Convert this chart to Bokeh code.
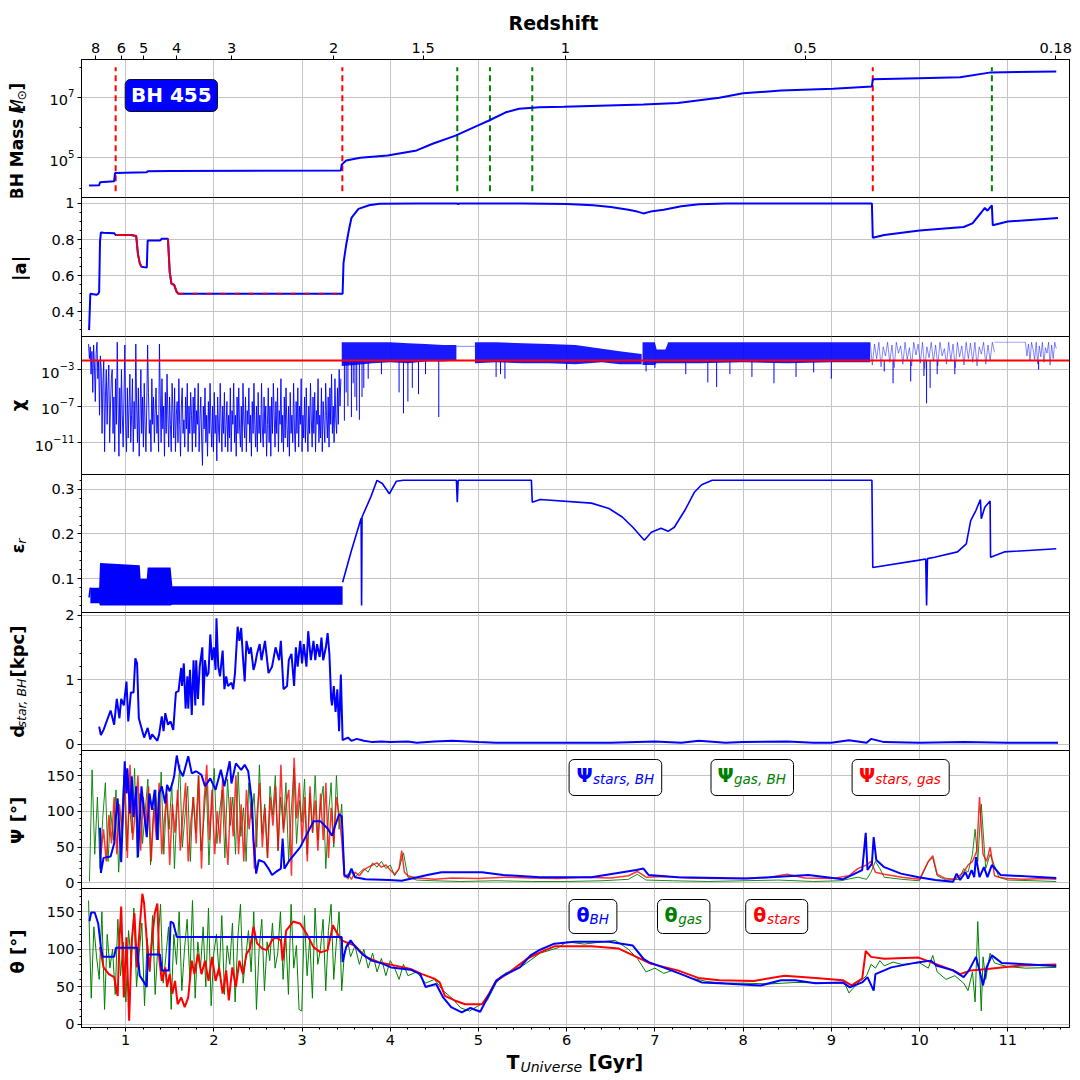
import numpy as np
from bokeh.plotting import figure
from bokeh.layouts import column, row
from bokeh.models import (Range1d, FixedTicker, SingleIntervalTicker, Label,
                          BoxAnnotation, CustomJSTickFormatter, Span)
from bokeh.embed import file_html
from bokeh.resources import INLINE

nan = float("nan")

# ---------------- data ----------------
redshift_labels = ["8", "6", "5", "4", "3", "2", "1.5", "1", "0.5", "0.18"]
redshift_T = [0.661, 0.951, 1.204, 1.578, 2.203, 3.358, 4.373, 5.984, 8.705, 11.544]
T_major = [1, 2, 3, 4, 5, 6, 7, 8, 9, 10, 11]

# BH mass (log10 Msun)
mass_T = [0.586, 0.70, 0.71, 0.87, 0.88, 1.24, 1.25, 1.51, 3.44, 3.45, 3.50, 3.66, 3.97,
          4.30, 4.48, 4.74, 4.99, 5.12, 5.31, 5.46, 5.69, 5.97, 6.87, 7.26, 7.73, 8.00,
          8.43, 9.02, 9.46, 9.47, 9.99, 10.46, 10.81, 11.55]
mass_log10 = [4.09, 4.10, 4.20, 4.23, 4.50, 4.53, 4.56, 4.57, 4.59, 4.78, 4.92, 5.01, 5.08,
              5.25, 5.47, 5.74, 6.07, 6.24, 6.51, 6.63, 6.68, 6.69, 6.77, 6.82, 6.99, 7.14,
              7.23, 7.29, 7.36, 7.60, 7.64, 7.67, 7.83, 7.86]
merger_T_red = [0.887, 3.457, 9.47]
merger_T_green = [4.76, 5.13, 5.61, 10.82]
merger_line_log10 = (3.90, 8.00)

# spin |a|
spin_T = [0.586, 0.60, 0.67, 0.69, 0.70, 0.71, 0.72, 0.75, 0.87, 0.89,
          1.06, 1.12, 1.14, 1.16, 1.18, 1.24, 1.25, 1.39, 1.41, 1.48,
          1.50, 1.52, 1.55, 1.58, 1.60, 3.46, 3.47, 3.50, 3.53, 3.56,
          3.64, 3.76, 3.88, 4.3, 4.76, 4.77, 4.78, 5.5, 6.0, 6.3,
          6.5, 6.7, 6.8, 6.87, 6.95, 7.1, 7.3, 7.5, 7.8, 9.46,
          9.47, 9.6, 10.0, 10.5, 10.6, 10.7, 10.74, 10.77, 10.82, 10.83,
          11.0, 11.57]
spin_a = [0.30, 0.50, 0.495, 0.50, 0.51, 0.79, 0.84, 0.838, 0.835, 0.825,
          0.825, 0.82, 0.72, 0.67, 0.65, 0.645, 0.795, 0.795, 0.805, 0.805,
          0.62, 0.555, 0.55, 0.51, 0.50, 0.50, 0.67, 0.77, 0.85, 0.92,
          0.97, 0.99, 0.998, 1.0, 1.0, 0.995, 1.0, 1.0, 0.997, 0.99,
          0.98, 0.965, 0.955, 0.945, 0.955, 0.965, 0.985, 0.995, 1.0, 1.0,
          0.81, 0.825, 0.85, 0.87, 0.89, 0.95, 0.975, 0.96, 0.99, 0.88,
          0.90, 0.92]
spin_red1_T = [0.89, 1.06, 1.12, 1.14, 1.16, 1.18]
spin_red1 = [0.825, 0.825, 0.82, 0.72, 0.67, 0.65]
spin_red2_T = [1.48, 1.50, 1.52, 1.55, 1.58, 1.60]
spin_red2 = [0.805, 0.62, 0.555, 0.55, 0.51, 0.50]
spin_red3_T = [1.60, 3.40]
spin_red3 = [0.50, 0.50]

# chi (log10)
chi_crit = 1e-2
chi_early_range = (0.58, 3.44)
chi_early_log10 = [
    # 0.58 - 0.85
    -0.2, -1.8, -0.5, -3.5, -1.0, -5.5, -0.3, -2.5, -6.5, -1.2, 0, -4, -2, -8,
    -1.5, -3, -10, -4.5, -2, -12, -6, -3, -9, -5, -2.5, -11, -7, -4,
    # 0.85 - 1.35
    -3, -10, -6, -12, -4, -9, 0, -7, -12.5, -5, -10, -3, -8, -11.5, -6, -0.3,
    -9, -12, -5, -10.5, -7, -3.5, -11, -8, -4, -12, -6.5, -9.5, -0.2, -7, -11, -5,
    -12.5, -8, -3, -10, -6, -11.5, -4.5, -9, -12, -7, -0.3, -5.5, -10, -8.5,
    -12, -4, -9, -6, -11, -7.5,
    # 1.35 - 1.75
    -5, -10, -8, -12, -0.2, -6, -11, -4, -9.5, -7, -12.5, -5.5, -10, -3.5,
    -8, -11.5, -6, -9, -12, -4.5, -7.5, -10.5, -5, -12, -8, -6.5, -11, -4,
    -9, -12.5, -7, -5, -10, -8.5, -11.5, -6, -9.5, -4.5, -12, -7, -10, -5.5,
    # 1.75 - 2.6
    -8, -12, -6, -10, -5, -11.5, -7.5, -9, -4.5, -12, -8.5, -6, -10.5, -13.5, -7,
    -9.5, -5, -11, -8, -12.5, -6.5, -10, -4.5, -9, -11.5, -7, -12, -5.5, -10, -8,
    -13, -6, -9.5, -11, -4.5, -8.5, -12, -7, -10, -5.5, -11.5, -9, -6.5, -12, -8,
    -10.5, -5, -12, -7.5, -9, -4.5, -11, -8, -12.5, -6, -10, -5, -9.5, -11.5, -7,
    -12, -4.5, -8.5, -10.5, -6, -12, -7.5, -9, -5, -11, -8, -12.5, -6.5, -10, -4.5,
    -9, -11.5, -7, -12, -5.5, -10, -8, -11, -4.5, -9.5, -11.5, -6, -10, -7, -12.5,
    # 2.6 - 3.44
    -9, -5, -11, -7, -12.5, -6, -10, -4.5, -8, -11.5, -6.5, -10, -5, -12, -7.5,
    -9, -4, -11, -8, -12, -6, -10.5, -5, -9, -11.5, -7, -12.5, -5.5, -10, -8,
    -11, -4.5, -9.5, -12, -6.5, -10, -5, -11.5, -7, -9, -4, -12, -8, -10.5, -6,
    -11, -5, -9.5, -12, -7, -10, -4.5, -8.5, -11.5, -6, -10, -5.5, -12, -7.5, -9,
    -4, -11, -8, -10.5, -5, -12, -6.5, -9, -11, -4.5, -8, -10.5, -6, -11.5, -5,
    -9, -3.5, -10, -7, -11, -4, -8.5, -10, -5, -9, -3, -7, -4]
chi_band1_T = [3.45, 3.6, 3.8, 4.0, 4.2, 4.4, 4.6, 4.75]
chi_band1_hi = [0.0, 0.0, 0.0, 0.0, -0.1, -0.2, -0.3, -0.3]
chi_band1_lo = [-2.6, -2.5, -2.3, -2.2, -2.3, -2.1, -2.1, -2.0]
chi_gap_T = [4.75, 4.96]
chi_gap = [-0.45, -0.45]
chi_band2_T = [4.96, 5.2, 5.5, 5.8, 6.1, 6.4, 6.6, 6.85]
chi_band2_hi = [0.0, 0.0, -0.1, -0.2, -0.3, -0.7, -1.0, -1.3]
chi_band2_lo = [-2.3, -2.2, -2.3, -2.3, -2.4, -2.2, -2.4, -2.4]
chi_band3_T = [6.86, 7.0, 7.02, 7.12, 7.15, 7.5, 8.0, 8.5, 9.0, 9.44]
chi_band3_hi = [0.0, 0.0, -0.8, -0.8, 0.0, 0.0, 0.0, 0.0, 0.0, 0.0]
chi_band3_lo = [-2.5, -2.5, -2.3, -2.3, -2.3, -2.3, -2.2, -2.3, -2.2, -2.2]
chi_sparse1_range = (9.44, 10.85)
chi_sparse1 = [0, -2.5, -0.2, -1.8, 0, -2.7, -0.5, -1.5, 0, -2.2, -0.3, -2.8, 0, -1.2,
               -0.4, -2.4, 0, -1.9, -0.6, -2.6, 0, -1.4, -0.2, -2.3, 0, -2.9, -0.5, -1.7,
               0, -2.1, -0.3, -2.6, 0, -1.5, -0.7, -2.4, 0, -2.0, -0.2, -2.8, 0, -1.6,
               -0.4, -2.5, 0, -1.8, -0.1, -2.2, 0, -2.6, -0.5, -1.3, 0, -2.4, -0.3, -2.0,
               0, -1.1]
chi_flat_T = [10.85, 11.2]
chi_flat = [0.0, 0.0]
chi_sparse2_range = (11.2, 11.55)
chi_sparse2 = [0, -1.5, -0.2, -2.0, 0, -0.8, -1.9, 0, -2.4, -0.4, -1.6, 0, -2.2, -0.6,
               -1.2, 0, -2.5, -0.3, -1.8, 0, -0.7]
chi_spike_T = [3.48, 3.52, 3.56, 3.60, 3.65, 3.70, 3.75, 3.90, 4.10, 4.15,
               4.20, 4.25, 4.40, 4.55, 5.20, 5.25, 5.30, 6.00, 6.90, 7.00,
               7.35, 7.60, 7.70, 7.85, 8.10, 8.35, 8.60, 8.80, 9.00, 9.60,
               9.70, 9.90, 10.05, 10.08, 10.12, 10.20, 10.40, 11.35,
               3.50, 3.58, 3.62, 3.68, 4.32]
chi_spike_log10 = [-8.6, -7.0, -8.2, -6.0, -8.5, -5.0, -4.0, -3.5, -5.5, -7.8,
                   -6.5, -5.0, -3.5, -8.2, -3.8, -3.5, -4.0, -3.0, -3.2, -2.8,
                   -3.5, -4.4, -4.9, -3.5, -3.8, -4.5, -3.8, -3.3, -4.0, -3.2,
                   -4.5, -4.3, -3.7, -6.7, -5.0, -3.5, -3.5, -3.0,
                   -5.5, -4.5, -7.5, -6.0, -5.7]

# radiative efficiency
eps_band_T = [0.60, 0.70, 0.71, 1.16, 1.17, 1.24, 1.25, 1.51, 1.53, 3.46]
eps_band_hi = [0.08, 0.08, 0.135, 0.13, 0.10, 0.10, 0.125, 0.125, 0.083, 0.083]
eps_band_lo = [0.045, 0.045, 0.04, 0.04, 0.04, 0.04, 0.04, 0.04, 0.042, 0.042]
eps_T = [0.586, 0.60, nan, 3.46, 3.56, 3.67, 3.675, 3.68, 3.78, 3.85,
         3.91, 3.99, 4.07, 4.15, 4.75, 4.76, 4.77, 5.60, 5.61, 5.70,
         6.28, 6.48, 6.63, 6.75, 6.88, 6.96, 7.07, 7.15, 7.22, 7.34,
         7.45, 7.53, 7.65, 9.46, 9.47, 9.98, 10.07, 10.08, 10.09, 10.17,
         10.43, 10.53, 10.58, 10.64, 10.69, 10.70, 10.74, 10.80, 10.805, 10.96,
         11.55]
eps_r = [0.058, 0.08, nan, 0.092, 0.163, 0.235, 0.04, 0.238, 0.283, 0.32,
         0.313, 0.29, 0.318, 0.32, 0.32, 0.271, 0.32, 0.32, 0.271, 0.277,
         0.269, 0.257, 0.238, 0.215, 0.186, 0.204, 0.213, 0.206, 0.215, 0.253,
         0.294, 0.31, 0.32, 0.32, 0.125, 0.141, 0.144, 0.04, 0.145, 0.148,
         0.16, 0.178, 0.23, 0.253, 0.277, 0.234, 0.26, 0.274, 0.148, 0.16,
         0.167]

# stellar offset d_star,BH [kpc]
d_T = [0.70, 0.72, 0.75, 0.83, 0.87, 0.90, 0.93, 0.95, 0.98, 1.01,
       1.03, 1.06, 1.09, 1.11, 1.13, 1.15, 1.18, 1.21, 1.25, 1.28,
       1.30, 1.36, 1.38, 1.41, 1.43, 1.45, 1.48, 1.51, 1.54, 1.57,
       1.60, 1.63, 1.64, 1.66, 1.68, 1.70, 1.71, 1.73, 1.75, 1.77,
       1.79, 1.80, 1.82, 1.84, 1.87, 1.88, 1.90, 1.92, 1.94, 1.96,
       1.98, 2.00, 2.02, 2.03, 2.05, 2.07, 2.10, 2.12, 2.14, 2.16,
       2.20, 2.22, 2.24, 2.27, 2.29, 2.31, 2.33, 2.35, 2.37, 2.40,
       2.42, 2.45, 2.47, 2.49, 2.52, 2.54, 2.58, 2.62, 2.66, 2.70,
       2.74, 2.76, 2.79, 2.83, 2.85, 2.88, 2.91, 2.93, 2.95, 2.98,
       3.00, 3.02, 3.05, 3.07, 3.10, 3.13, 3.15, 3.17, 3.20, 3.22,
       3.24, 3.27, 3.29, 3.31, 3.33, 3.34, 3.36, 3.38, 3.40, 3.42,
       3.44, 3.46, 3.52, 3.56, 3.62, 3.7, 3.8, 3.9, 4.0, 4.2,
       4.3, 4.5, 4.7, 5.0, 5.2, 5.5, 6.0, 6.5, 7.0, 7.3,
       7.5, 7.8, 8.0, 8.5, 8.8, 9.0, 9.2, 9.4, 9.45, 9.6,
       10.0, 10.5, 11.0, 11.57]
d_kpc = [0.27, 0.14, 0.22, 0.52, 0.30, 0.70, 0.40, 0.70, 0.60, 0.97,
         0.35, 0.80, 0.80, 1.33, 1.25, 0.40, 0.25, 0.10, 0.25, 0.07,
         0.15, 0.05, 0.15, 0.43, 0.20, 0.48, 0.30, 0.35, 0.22, 0.80,
         0.82, 1.18, 0.90, 1.25, 0.55, 1.05, 0.55, 1.15, 0.45, 1.30,
         0.60, 1.30, 0.70, 1.20, 1.50, 0.60, 1.30, 1.05, 1.10, 1.70,
         1.30, 1.50, 1.15, 1.95, 1.20, 1.05, 1.45, 0.85, 1.05, 0.90,
         0.95, 0.85, 1.10, 1.82, 1.60, 1.80, 1.35, 0.97, 1.60, 1.40,
         1.50, 1.15, 1.25, 1.40, 1.55, 1.30, 1.60, 1.10, 1.20, 1.50,
         1.30, 1.60, 0.85, 0.90, 1.30, 1.40, 0.90, 1.50, 1.20, 1.60,
         1.25, 1.55, 1.20, 1.75, 1.30, 1.60, 1.30, 1.55, 1.35, 1.65,
         1.30, 1.50, 1.72, 1.40, 0.70, 0.60, 0.90, 0.50, 0.85, 0.20,
         1.08, 0.06, 0.10, 0.05, 0.08, 0.05, 0.03, 0.04, 0.03, 0.04,
         0.02, 0.04, 0.05, 0.03, 0.02, 0.02, 0.02, 0.02, 0.04, 0.02,
         0.05, 0.02, 0.03, 0.04, 0.02, 0.02, 0.06, 0.02, 0.08, 0.03,
         0.02, 0.03, 0.02, 0.02]

# Psi angles [deg]
psi_sbh_T = [0.71, 0.72, 0.75, 0.83, 0.87, 0.89, 0.91, 0.95, 0.97, 0.99,
             1.01, 1.02, 1.05, 1.07, 1.09, 1.12, 1.14, 1.18, 1.21, 1.24,
             1.27, 1.30, 1.33, 1.36, 1.38, 1.41, 1.45, 1.47, 1.50, 1.53,
             1.55, 1.58, 1.61, 1.65, 1.71, 1.75, 1.80, 1.86, 1.90, 1.96,
             2.02, 2.08, 2.12, 2.18, 2.20, 2.25, 2.31, 2.35, 2.39, 2.43,
             2.45, 2.48, 2.51, 2.57, 2.62, 2.66, 2.70, 2.76, 2.78, 2.80,
             2.86, 2.98, 3.13, 3.21, 3.29, 3.34, 3.37, 3.42, 3.45, 3.48,
             3.52, 3.56, 3.60, 3.72, 3.99, 4.13, 4.42, 4.58, 5.04, 5.28,
             5.70, 6.28, 6.79, 6.87, 6.93, 7.26, 8.04, 8.74, 9.13, 9.35,
             9.39, 9.41, 9.46, 9.48, 9.51, 9.60, 9.79, 9.99, 10.18, 10.38,
             10.42, 10.46, 10.52, 10.55, 10.59, 10.62, 10.64, 10.68, 10.73, 10.77,
             10.82, 10.92, 11.55]
psi_sbh = [77, 14, 35, 37, 55, 92, 118, 29, 97, 170,
           125, 160, 97, 149, 92, 135, 36, 135, 97, 64,
           125, 102, 130, 60, 125, 135, 111, 137, 128, 139,
           149, 178, 158, 149, 177, 153, 156, 151, 135, 146,
           130, 158, 135, 170, 139, 167, 158, 165, 156, 116,
           60, 13, 32, 29, 20, 11, 15, 20, 62, 20,
           32, 50, 86, 86, 76, 66, 78, 96, 93, 11,
           8, 20, 8, 5, 4, 3, 11, 15, 15, 11,
           8, 8, 18, 20, 11, 8, 6, 11, 5, 18,
           70, 18, 27, 64, 32, 22, 13, 8, 4, 1.5,
           13, 4, 15, 6, 18, 8, 36, 8, 22, 8,
           25, 11, 7]
psi_sg_early_range = (0.72, 3.45)
psi_sg_early = [40, 75, 30, 95, 55, 120, 40, 110, 70, 150,
                35, 165, 60, 100, 150, 45, 120, 80, 135, 30,
                105, 60, 140, 40, 90, 125, 25, 110, 70, 130,
                45, 95, 140, 30, 85, 120, 55, 150, 20, 115,
                165, 60, 130, 40, 100, 55, 145, 80, 25, 120,
                65, 150, 40, 110, 30, 130, 75, 115, 20, 95,
                140, 50, 105, 35, 120, 80, 135, 45, 165, 70,
                110, 130, 10, 175, 90, 140, 55, 120, 30, 135,
                70, 115, 45, 125, 60, 140, 35, 105, 55, 120,
                95, 60]
psi_sg_late_T = [3.48, 3.52, 3.56, 3.60, 3.65, 3.70, 3.75, 3.80, 3.85, 3.90,
                 3.95, 4.00, 4.05, 4.10, 4.13, 4.16, 4.20, 4.30, 4.40, 4.50,
                 4.70, 5.00, 5.30, 5.60, 5.90, 6.20, 6.50, 6.70, 6.80, 6.90,
                 7.10, 7.40, 7.70, 8.00, 8.30, 8.50, 8.70, 9.00, 9.20, 9.30,
                 9.40, 9.45, 9.50, 9.60, 9.80, 10.00, 10.10, 10.15, 10.20, 10.30,
                 10.40, 10.50, 10.55, 10.60, 10.65, 10.68, 10.72, 10.76, 10.80, 10.85,
                 10.90, 11.00, 11.20, 11.40, 11.55]
psi_sg_late = [8, 12, 5, 15, 10, 18, 22, 25, 28, 22,
               25, 18, 12, 20, 45, 15, 10, 7, 6, 5,
               7, 6, 8, 7, 6, 8, 7, 10, 16, 8,
               9, 7, 6, 6, 8, 12, 7, 6, 10, 20,
               25, 30, 15, 12, 8, 5, 30, 38, 12, 6,
               5, 15, 25, 30, 45, 120, 40, 30, 50, 10,
               8, 6, 5, 6, 5]
psi_gbh_early_range = (0.59, 3.45)
psi_gbh_early = [2, 158, 40, 120, 20, 90, 140, 30, 100, 60,
                 130, 15, 80, 150, 45, 110, 70, 160, 35, 125,
                 55, 100, 145, 25, 90, 130, 60, 155, 40, 115,
                 75, 140, 20, 105, 165, 50, 95, 135, 30, 120,
                 70, 150, 45, 85, 140, 25, 110, 160, 55, 100,
                 130, 35, 145, 80, 120, 40, 155, 65, 105, 30,
                 140, 90, 125, 50, 165, 70, 110, 35, 135, 95,
                 150, 45, 120, 75, 140, 30, 100, 160, 55, 115,
                 85, 145, 40, 125, 70, 150, 60, 110, 135, 20,
                 95, 140, 50, 150, 75, 110]
psi_gbh_late_T = [3.48, 3.52, 3.56, 3.60, 3.70, 3.75, 3.80, 3.85, 3.90, 3.95,
                  4.00, 4.05, 4.10, 4.15, 4.20, 4.30, 4.50, 4.80, 5.20, 5.60,
                  6.00, 6.40, 6.70, 6.80, 6.90, 7.20, 7.60, 8.00, 8.40, 8.80,
                  9.10, 9.30, 9.40, 9.45, 9.50, 9.55, 9.60, 9.80, 10.00, 10.10,
                  10.15, 10.20, 10.30, 10.45, 10.50, 10.55, 10.60, 10.63, 10.66, 10.70,
                  10.75, 10.80, 10.90, 11.00, 11.30, 11.55]
psi_gbh_late = [10, 5, 15, 8, 20, 15, 28, 22, 30, 20,
                25, 10, 20, 42, 8, 4, 3, 2, 3, 2,
                2, 3, 5, 12, 4, 3, 2, 3, 4, 2,
                3, 8, 5, 15, 30, 20, 8, 5, 3, 30,
                35, 10, 4, 5, 20, 15, 40, 75, 30, 110,
                20, 40, 8, 4, 3, 2]

# theta angles [deg]
theta_bh_T = [0.59, 0.61, 0.65, 0.69, 0.72, 0.74, 0.87, 0.89, 1.13, 1.16,
              1.21, 1.24, 1.25, 1.39, 1.41, 1.49, 1.51, 1.54, 1.58, 3.45,
              3.46, 3.50, 3.55, 3.60, 3.68, 3.79, 3.91, 4.01, 4.23, 4.34,
              4.40, 4.52, 4.60, 4.69, 4.81, 4.91, 5.02, 5.20, 5.28, 5.47,
              5.59, 5.70, 5.86, 6.09, 6.48, 6.75, 6.87, 6.93, 7.14, 7.34,
              7.53, 7.73, 8.20, 8.43, 8.59, 8.82, 9.13, 9.21, 9.35, 9.41,
              9.48, 9.50, 9.68, 9.99, 10.13, 10.19, 10.38, 10.50, 10.56, 10.64,
              10.68, 10.72, 10.76, 10.82, 10.93, 11.55]
theta_bh = [137.5, 149, 149, 134, 103, 90, 90, 102, 102, 65,
            56, 50, 93, 93, 72, 72, 137, 135, 116.5, 116.5,
            83, 103, 112, 104, 94, 85, 81, 76, 73, 67,
            50, 54, 36, 23, 16, 22, 17, 58, 65, 76,
            92, 99.5, 107.6, 110, 110, 105, 87.5, 83, 74, 65,
            56, 55, 52, 59, 59, 55, 56, 49.5, 56, 63,
            45, 67, 76, 83, 85, 78.6, 72, 63, 72, 90,
            72, 52, 76, 92, 82, 78]
theta_st_T = [0.71, 0.75, 0.81, 0.87, 0.91, 0.93, 0.95, 0.98, 1.01, 1.04,
              1.07, 1.10, 1.13, 1.16, 1.19, 1.21, 1.24, 1.27, 1.30, 1.33,
              1.36, 1.38, 1.41, 1.45, 1.47, 1.50, 1.53, 1.56, 1.59, 1.63,
              1.67, 1.71, 1.75, 1.78, 1.82, 1.86, 1.90, 1.94, 1.98, 2.02,
              2.06, 2.10, 2.14, 2.17, 2.21, 2.25, 2.29, 2.33, 2.37, 2.41,
              2.45, 2.49, 2.55, 2.60, 2.66, 2.70, 2.76, 2.78, 2.82, 2.90,
              2.98, 3.05, 3.13, 3.21, 3.29, 3.35, 3.39, 3.45, 3.53, 3.60,
              3.72, 3.87, 3.99, 4.23, 4.36, 4.50, 4.56, 4.62, 4.73, 4.85,
              5.04, 5.12, 5.20, 5.32, 5.55, 5.70, 5.86, 6.28, 6.59, 6.79,
              6.95, 7.26, 7.49, 7.73, 8.12, 8.47, 8.82, 9.13, 9.23, 9.35,
              9.39, 9.45, 9.60, 9.99, 10.15, 10.38, 10.46, 10.58, 10.77, 11.16,
              11.55]
theta_st = [103, 76, 67, 63, 38, 112, 157, 36, 116, 5,
            112, 148, 76, 130, 174, 161, 112, 72, 112, 148,
            161, 90, 58, 76, 50, 67, 41, 58, 27, 36,
            23, 36, 85, 67, 94, 67, 85, 58, 90, 58,
            76, 41, 72, 32, 76, 50, 85, 67, 94, 101,
            130, 108, 101, 99, 112, 116.5, 112, 85, 125, 137,
            134, 121, 103, 96, 99, 132, 123, 112, 108, 105,
            90, 83, 80, 74, 67, 61, 56, 38, 32, 27,
            27, 41, 58, 67, 87.5, 96, 104, 104, 101, 90,
            81, 72, 62, 59, 58, 65, 62, 59, 52, 61,
            98, 90, 87.5, 89, 82, 72, 67, 72, 74, 78.6,
            80]
theta_gas_early_range = (0.58, 3.45)
theta_gas_early = [165, 35, 130, 90, 60, 150, 20, 120, 75, 100,
                   40, 140, 65, 110, 30, 125, 85, 155, 50, 95,
                   135, 25, 115, 70, 145, 40, 105, 160, 55, 90,
                   130, 20, 120, 80, 150, 45, 100, 140, 60, 165,
                   35, 110, 75, 130, 50, 155, 25, 95, 120, 65,
                   145, 40, 105, 80, 135, 30, 115, 160, 55, 90,
                   125, 70, 150, 20, 100, 140, 45, 110, 85, 135,
                   75, 95, 150, 60, 120, 40, 160, 75, 105, 20,
                   18, 145, 65, 115, 35, 155, 80, 100, 140, 45,
                   125, 160, 60, 110, 150, 45]
theta_gas_late_T = [3.48, 3.52, 3.55, 3.60, 3.65, 3.70, 3.75, 3.80, 3.85, 3.90,
                    3.95, 4.00, 4.05, 4.10, 4.15, 4.20, 4.30, 4.40, 4.50, 4.60,
                    4.70, 4.80, 4.90, 5.00, 5.10, 5.20, 5.30, 5.50, 5.70, 5.90,
                    6.00, 6.20, 6.40, 6.55, 6.70, 6.80, 6.90, 7.00, 7.10, 7.20,
                    7.40, 7.60, 7.80, 8.00, 8.30, 8.60, 9.00, 9.15, 9.20, 9.30,
                    9.40, 9.45, 9.50, 9.55, 9.60, 9.70, 9.80, 10.00, 10.10, 10.15,
                    10.20, 10.30, 10.40, 10.50, 10.55, 10.60, 10.63, 10.66, 10.70, 10.72,
                    10.75, 10.80, 10.85, 10.90, 11.00, 11.20, 11.55]
theta_gas_late = [95, 110, 90, 105, 80, 100, 75, 95, 70, 88,
                  65, 85, 75, 60, 80, 65, 70, 55, 60, 45,
                  35, 22, 18, 25, 32, 55, 68, 78, 95, 102,
                  110, 107, 110, 112, 100, 88, 70, 75, 68, 72,
                  62, 57, 55, 55, 54, 56, 55, 55, 42, 55,
                  65, 80, 75, 85, 78, 83, 80, 82, 75, 92,
                  70, 60, 65, 55, 45, 70, 30, 137, 18, 90,
                  60, 95, 82, 80, 77, 75, 76]

# ---------------- layout ----------------
FONT = "DejaVu Sans"
BLUE, RED, GREEN = "#0000ff", "#ff0000", "#008000"
GRID = "#c4c4c4"
X_RANGE = (0.50, 11.70)
FRAME_L, FRAME_R = 81, 1069          # page px
PAGE_W = 1072
LAB_W = 30                           # strip holding the y-axis titles
MAIN_W = PAGE_W - LAB_W
TOP_H = 34                           # strip holding "Redshift" (overlaps row 0 by 4 px)
BOT_H = 30                           # strip holding the time-axis title (overlaps by 4 px)
panels = [
    dict(top=59, bot=197, lo=3.694, hi=8.256, log=True),
    dict(top=197, bot=336, lo=0.264, hi=1.033, log=False),
    dict(top=336, bot=474, lo=-14.5, hi=0.63, log=True),
    dict(top=474, bot=612, lo=0.0245, hi=0.333, log=False),
    dict(top=612, bot=750, lo=-0.1, hi=2.04, log=False),
    dict(top=750, bot=888, lo=-7.8, hi=185.0, log=False),
    dict(top=888, bot=1027, lo=-4.0, hi=181.0, log=False),
]
B_TOP = [29, 8, 8, 8, 8, 8, 8]
B_BOT = [8, 8, 8, 8, 8, 8, 25]
OVERLAP = 16
MID = 0.35   # centre of the em box above the baseline, in em


def tx(px):
    return X_RANGE[0] + (px - FRAME_L) * (X_RANGE[1] - X_RANGE[0]) / (FRAME_R - FRAME_L)


def ty(k, py):
    P = panels[k]
    f = (P["bot"] - py) / (P["bot"] - P["top"])
    v = P["lo"] + f * (P["hi"] - P["lo"])
    return 10 ** v if P["log"] else v


def mk_label(x, y, s, size, style="bold", color="black", angle=0.0, align="left"):
    return Label(x=x, y=y, text=s, text_font=FONT, text_font_size=f"{size}px",
                 text_font_style=style, text_color=color, angle=angle,
                 text_align=align, text_baseline="middle")


def label(p, k, px, base_py, s, size, **kw):
    # horizontal text in a panel, given by its baseline in page pixels
    p.add_layout(mk_label(tx(px), ty(k, base_py - MID * size), s, size, **kw))


def plabel(f, px, base_py, s, size, **kw):
    # horizontal text in a strip figure whose data coordinates are page pixels
    f.add_layout(mk_label(px, base_py - MID * size, s, size, **kw))


def pvlabel(f, px, py_center, s, size, style="bold"):
    # vertical (rotated) text piece, centred at (px, py_center) in page pixels
    f.add_layout(mk_label(px, py_center, s, size, style=style, angle=np.pi / 2,
                          align="center"))


def box(p, k, l, r, t, b, fill="white", line="black"):
    p.add_layout(BoxAnnotation(left=tx(l), right=tx(r), top=ty(k, t), bottom=ty(k, b),
                               fill_color=fill, fill_alpha=1.0, line_color=line,
                               line_width=1, line_alpha=1.0, border_radius=5,
                               level="annotation"))


def strip(x0, x1, y_top, y_bot):
    f = figure(width=int(x1 - x0), height=int(y_bot - y_top),
               x_range=Range1d(x0, x1), y_range=Range1d(y_bot, y_top),
               x_axis_location=None, y_axis_location=None,
               output_backend="svg", toolbar_location=None, min_border=0)
    f.xgrid.visible = False
    f.ygrid.visible = False
    f.outline_line_color = None
    f.background_fill_alpha = 0
    f.border_fill_alpha = 0
    return f


xr = Range1d(*X_RANGE)
yticker = [
    FixedTicker(ticks=[1e5, 1e7], minor_ticks=[1e4, 1e6, 1e8]),
    SingleIntervalTicker(interval=0.2, num_minor_ticks=4),
    FixedTicker(ticks=[1e-11, 1e-7, 1e-3], minor_ticks=[]),
    SingleIntervalTicker(interval=0.1, num_minor_ticks=5),
    SingleIntervalTicker(interval=1, num_minor_ticks=5),
    SingleIntervalTicker(interval=50, num_minor_ticks=5),
    SingleIntervalTicker(interval=50, num_minor_ticks=5),
]

figs, strips = [], []
for k, P in enumerate(panels):
    bt, bb = B_TOP[k], B_BOT[k]
    xloc = "above" if k == 0 else ("below" if k == 6 else None)
    yr = Range1d(10 ** P["lo"], 10 ** P["hi"]) if P["log"] else Range1d(P["lo"], P["hi"])
    p = figure(width=MAIN_W, height=(P["bot"] - P["top"]) + bt + bb, x_range=xr, y_range=yr,
               y_axis_type="log" if P["log"] else "linear", x_axis_location=xloc,
               output_backend="svg", toolbar_location=None,
               min_border_left=FRAME_L - LAB_W, min_border_right=PAGE_W - FRAME_R,
               min_border_top=bt, min_border_bottom=bb)
    p.background_fill_color = "white"
    p.border_fill_alpha = 0
    p.outline_line_color = "black"
    p.outline_line_alpha = 1.0
    p.outline_line_width = 1
    p.xgrid.ticker = FixedTicker(ticks=T_major)
    p.grid.grid_line_color = GRID
    p.grid.grid_line_width = 1
    p.yaxis[0].ticker = yticker[k]
    for a in p.axis:
        a.major_label_text_font = FONT
        a.major_label_text_font_size = "14.5px"
        a.major_label_text_color = "black"
        a.axis_line_color = "black"
        a.major_tick_line_color = "black"
        a.minor_tick_line_color = "black"
        a.major_tick_out = 4
        a.major_tick_in = 0
        a.minor_tick_out = 2
        a.minor_tick_in = 0
        a.major_label_standoff = 3
    figs.append(p)
    strips.append(strip(0, LAB_W, P["top"] - bt, P["bot"] + bb))

top_strip = strip(0, PAGE_W, 0, TOP_H)
bot_y0 = panels[6]["bot"] + B_BOT[6] - 4
bot_strip = strip(0, PAGE_W, bot_y0, bot_y0 + BOT_H)

# top redshift axis
top_ax = figs[0].xaxis[0]
top_ax.ticker = FixedTicker(ticks=redshift_T, minor_ticks=[])
top_ax.formatter = CustomJSTickFormatter(
    args=dict(pos=redshift_T, lab=redshift_labels),
    code="""
    for (let i = 0; i < pos.length; i++) {
        if (Math.abs(pos[i] - tick) < 1e-6) { return lab[i]; }
    }
    return "";
""")
figs[6].xaxis[0].ticker = SingleIntervalTicker(interval=1, num_minor_ticks=5)

plabel(top_strip, 508, 29.3, "Redshift", 19)
plabel(bot_strip, 506, 1068, "T", 19)
plabel(bot_strip, 520, 1071.5, "Universe", 14, style="italic")
plabel(bot_strip, 588, 1068, "[Gyr]", 19)

# ---------------- panel 1: BH mass ----------------
p = figs[0]
lo_v, hi_v = 10 ** merger_line_log10[0], 10 ** merger_line_log10[1]
p.segment(x0=merger_T_red, x1=merger_T_red, y0=[lo_v] * len(merger_T_red),
          y1=[hi_v] * len(merger_T_red), line_color=RED, line_width=2, line_dash="6 4")
p.segment(x0=merger_T_green, x1=merger_T_green, y0=[lo_v] * len(merger_T_green),
          y1=[hi_v] * len(merger_T_green), line_color=GREEN, line_width=2, line_dash="6 4")
p.line(mass_T, list(10 ** np.array(mass_log10)), line_color=BLUE, line_width=2)
box(p, 0, 124.7, 217, 79, 111, fill=BLUE, line="#101010")
label(p, 0, 130.5, 101.5, "BH 455", 20, color="white")
s = strips[0]
pvlabel(s, 16.5, 148.0, "BH Mass [", 17)
pvlabel(s, 16.5, 89.5, "M", 17, style="italic")
pvlabel(s, 20.5, 75.5, "\u2299", 12.5, style="normal")
pvlabel(s, 16.5, 64.5, "]", 17)

# ---------------- panel 2: spin ----------------
p = figs[1]
p.line(spin_T, spin_a, line_color=BLUE, line_width=2)
p.line(spin_red1_T, spin_red1, line_color=RED, line_width=2, line_alpha=0.85)
p.line(spin_red2_T, spin_red2, line_color=RED, line_width=2, line_alpha=0.85)
p.line(spin_red3_T, spin_red3, line_color=RED, line_width=2, line_alpha=0.8, line_dash="5 9")
pvlabel(strips[1], 19, 268, "|a|", 18)

# ---------------- panel 3: chi ----------------
p = figs[2]


def L(a):
    return list(10 ** np.array(a, dtype=float))


chi_early_T = list(np.linspace(chi_early_range[0], chi_early_range[1], len(chi_early_log10)))
p.line(chi_early_T, L(chi_early_log10), line_color=BLUE, line_width=0.9)
for bt_, bh_, bl_ in [(chi_band1_T, chi_band1_hi, chi_band1_lo),
                      (chi_band2_T, chi_band2_hi, chi_band2_lo),
                      (chi_band3_T, chi_band3_hi, chi_band3_lo)]:
    p.varea(x=bt_, y1=L(bl_), y2=L(bh_), fill_color=BLUE, fill_alpha=0.9)
p.line(chi_gap_T, L(chi_gap), line_color=BLUE, line_width=0.8, line_alpha=0.6)
s1_T = list(np.linspace(chi_sparse1_range[0], chi_sparse1_range[1], len(chi_sparse1)))
p.line(s1_T, L(chi_sparse1), line_color=BLUE, line_width=0.6, line_alpha=0.8)
p.line(chi_flat_T, L(chi_flat), line_color=BLUE, line_width=0.6, line_alpha=0.6)
s2_T = list(np.linspace(chi_sparse2_range[0], chi_sparse2_range[1], len(chi_sparse2)))
p.line(s2_T, L(chi_sparse2), line_color=BLUE, line_width=0.6, line_alpha=0.8)
p.segment(x0=chi_spike_T, x1=chi_spike_T, y0=[chi_crit] * len(chi_spike_T),
          y1=L(chi_spike_log10), line_color=BLUE, line_width=1)
p.add_layout(Span(location=chi_crit, dimension="width", line_color=RED, line_width=2))
pvlabel(strips[2], 16.5, 405, "\u03c7", 18)

# ---------------- panel 4: epsilon_r ----------------
p = figs[3]
p.varea(x=eps_band_T, y1=eps_band_lo, y2=eps_band_hi, fill_color=BLUE, fill_alpha=1.0)
p.line(eps_T, eps_r, line_color=BLUE, line_width=1.6)
pvlabel(strips[3], 16.5, 548.7, "\u03b5", 18)
pvlabel(strips[3], 20.5, 540.3, "r", 13, style="italic")

# ---------------- panel 5: d_star,BH ----------------
p = figs[4]
p.line(d_T, d_kpc, line_color=BLUE, line_width=2)
pvlabel(strips[4], 16.5, 736.5, "d", 18)
pvlabel(strips[4], 20.5, 705.0, "star, BH", 12.5, style="italic")
pvlabel(strips[4], 16.5, 647.5, "[kpc]", 18)

# ---------------- panel 6: Psi ----------------
p = figs[5]
g_T = list(np.linspace(psi_gbh_early_range[0], psi_gbh_early_range[1], len(psi_gbh_early))) + psi_gbh_late_T
p.line(g_T, psi_gbh_early + psi_gbh_late, line_color=GREEN, line_width=1, line_alpha=0.9)
r_T = list(np.linspace(psi_sg_early_range[0], psi_sg_early_range[1], len(psi_sg_early))) + psi_sg_late_T
p.line(r_T, psi_sg_early + psi_sg_late, line_color=RED, line_width=1.5, line_alpha=0.8)
p.line(psi_sbh_T, psi_sbh, line_color=BLUE, line_width=2)
box(p, 5, 568.6, 661.2, 759, 795)
box(p, 5, 710.5, 793.0, 759, 795)
box(p, 5, 851.6, 948.7, 759, 795)
label(p, 5, 576, 780.7, "\u03a8", 19, color=BLUE)
label(p, 5, 592.5, 783.5, "stars, BH", 13.5, style="italic", color=BLUE)
label(p, 5, 717, 780.7, "\u03a8", 19, color=GREEN)
label(p, 5, 733.5, 783.5, "gas, BH", 13.5, style="italic", color=GREEN)
label(p, 5, 858.5, 780.7, "\u03a8", 19, color=RED)
label(p, 5, 874.7, 783.5, "stars, gas", 13.5, style="italic", color=RED)
pvlabel(strips[5], 16.5, 820, "\u03a8 [\u00b0]", 18)

# ---------------- panel 7: theta ----------------
p = figs[6]
tg_T = list(np.linspace(theta_gas_early_range[0], theta_gas_early_range[1], len(theta_gas_early))) + theta_gas_late_T
p.line(tg_T, theta_gas_early + theta_gas_late, line_color=GREEN, line_width=1)
p.line(theta_st_T, theta_st, line_color=RED, line_width=2)
p.line(theta_bh_T, theta_bh, line_color=BLUE, line_width=2)
box(p, 6, 568.6, 616.4, 899, 933)
box(p, 6, 657.0, 709.4, 899, 933)
box(p, 6, 745.2, 807.2, 899, 933)
label(p, 6, 576, 921.5, "\u03b8", 19, color=BLUE)
label(p, 6, 589, 923.5, "BH", 13.5, style="italic", color=BLUE)
label(p, 6, 664, 921.5, "\u03b8", 19, color=GREEN)
label(p, 6, 677.7, 923.5, "gas", 13.5, style="italic", color=GREEN)
label(p, 6, 752.8, 921.5, "\u03b8", 19, color=RED)
label(p, 6, 766.6, 923.5, "stars", 13.5, style="italic", color=RED)
pvlabel(strips[6], 16.5, 958, "\u03b8 [\u00b0]", 18)

rows = []
for k in range(7):
    m = (-4, 0, 0, 0) if k == 0 else (-OVERLAP, 0, 0, 0)
    rows.append(row(strips[k], figs[k], spacing=0, margin=m))
bot_strip.margin = (-4, 0, 0, 0)
layout = column(top_strip, *rows, bot_strip, spacing=0)
open("out.html", "w").write(file_html(layout, INLINE))
